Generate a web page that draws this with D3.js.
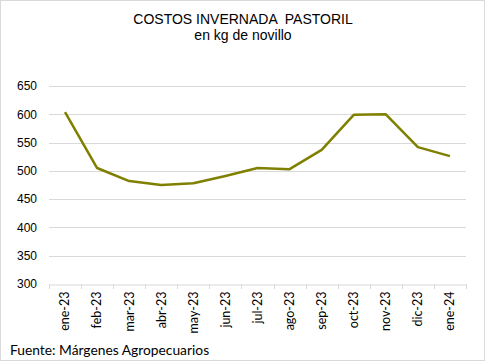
<!DOCTYPE html>
<html><head><meta charset="utf-8">
<script src="https://cdn.jsdelivr.net/npm/d3@7"></script>
<style>body{margin:0;background:#fff}svg{display:block}</style>
</head><body>
<script>
const categories = ["ene-23","feb-23","mar-23","abr-23","may-23","jun-23","jul-23","ago-23","sep-23","oct-23","nov-23","dic-23","ene-24"];
const values = [604, 505, 482, 475, 478, 491, 505, 503, 537, 599, 600, 542, 526];
const yTicks = [300, 350, 400, 450, 500, 550, 600, 650];
const title = "COSTOS INVERNADA  PASTORIL";
const subtitle = "en kg de novillo";
const source = "Fuente: Márgenes Agropecuarios";

const W = 486, H = 361;
const m = {left: 49, right: 20, top: 86, bottom: 77};
const svg = d3.select("body").append("svg").attr("width", W).attr("height", H);
svg.append("rect").attr("x",0.5).attr("y",0.5).attr("width",W-2).attr("height",H-1)
  .attr("fill","#fff").attr("stroke","#d9d9d9");

const x = d3.scaleBand().domain(categories).range([m.left, W - m.right]).padding(0);
const y = d3.scaleLinear().domain([300, 650]).range([H - m.bottom, m.top]);

// grid
svg.append("g").selectAll("line").data(yTicks.filter(d=>d>300)).join("line")
  .attr("x1", m.left).attr("x2", W - m.right)
  .attr("y1", d=>Math.round(y(d))+0.5).attr("y2", d=>Math.round(y(d))+0.5)
  .attr("stroke","#d9d9d9").attr("stroke-width",1);

// y axis labels
const yAxis = d3.axisLeft(y).tickValues(yTicks).tickSize(0).tickPadding(12);
const gy = svg.append("g").attr("transform",`translate(${m.left},0)`).call(yAxis);
gy.select(".domain").remove();
gy.selectAll("text").attr("font-family","Liberation Sans, Arial, sans-serif").attr("font-size",12).attr("fill","#000");

// x axis
const xAxis = d3.axisBottom(x).tickSize(0);
const gx = svg.append("g").attr("transform",`translate(0,${Math.round(y(300))+0.5})`).call(xAxis);
gx.select(".domain").attr("stroke","#d9d9d9");
gx.selectAll(".tick line").remove();
gx.selectAll("text").attr("font-family","Lato, Carlito, Calibri, sans-serif").attr("font-size",12.5).attr("fill","#000")
  .attr("transform","rotate(-90)").attr("text-anchor","end").attr("dx","-7").attr("dy","0.35em").attr("y",0);
// boundary ticks
const bounds = categories.map(c=>x(c)).concat([x(categories[categories.length-1])+x.bandwidth()]);
svg.append("g").selectAll("line").data(bounds).join("line")
  .attr("x1",d=>Math.round(d)+0.5).attr("x2",d=>Math.round(d)+0.5)
  .attr("y1",Math.round(y(300))).attr("y2",Math.round(y(300))+5)
  .attr("stroke","#d9d9d9");

// line
const line = d3.line().x((d,i)=>x(categories[i])+x.bandwidth()/2).y(d=>y(d));
svg.append("path").datum(values).attr("d",line).attr("fill","none")
  .attr("stroke","#808000").attr("stroke-width",2.5).attr("stroke-linejoin","round");

// titles
svg.append("text").attr("x",243).attr("y",24).attr("text-anchor","middle")
  .attr("font-family","Liberation Sans, Arial, sans-serif").attr("font-size",14).attr("xml:space","preserve")
  .style("white-space","pre").text(title);
svg.append("text").attr("x",243).attr("y",40).attr("text-anchor","middle")
  .attr("font-family","Liberation Sans, Arial, sans-serif").attr("font-size",14).text(subtitle);
svg.append("text").attr("x",10).attr("y",355)
  .attr("font-family","Lato, Carlito, Calibri, sans-serif").attr("font-size",13.8).attr("fill","#000").text(source);
</script>
</body></html>
